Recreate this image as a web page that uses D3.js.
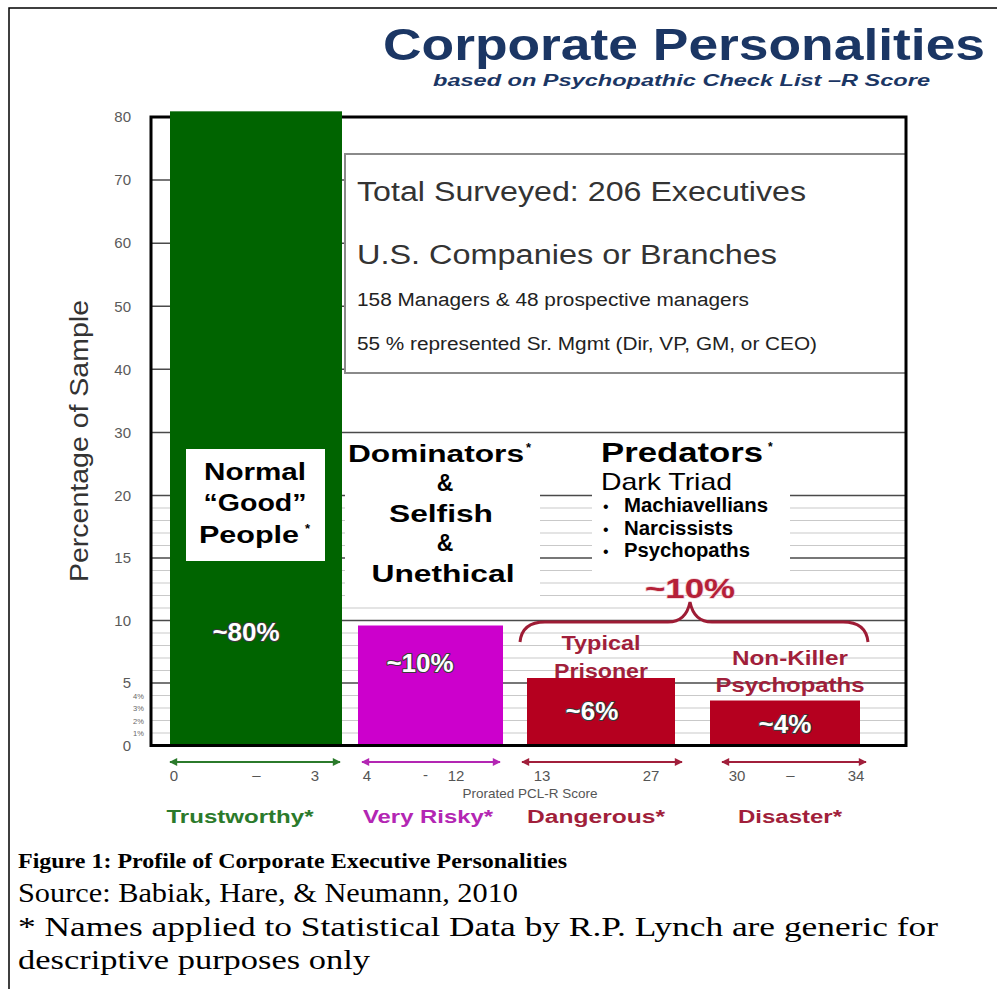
<!DOCTYPE html>
<html><head><meta charset="utf-8">
<script src="https://cdn.jsdelivr.net/npm/d3@7"></script>
<style>body{margin:0;background:#fff} svg{display:block}</style>
</head><body><svg id="c" width="997" height="989"></svg>
<script>
// ---------- DATA ----------
const categories = ["Normal “Good” People", "Dominators & Selfish & Unethical", "Typical Prisoner", "Non-Killer Psychopaths"];
const values = [80.9, 9.6, 5.4, 3.6];
const valueLabels = ["~80%", "~10%", "~6%", "~4%"];
const scoreLo = [0, 4, 13, 30];
const scoreHi = [3, 12, 27, 34];
const riskLabels = ["Trustworthy*", "Very Risky*", "Dangerous*", "Disaster*"];
const scoreTicks = [0, 3, 4, 12, 13, 27, 30, 34];
const yTicks = [0, 5, 10, 15, 20, 30, 40, 50, 60, 70, 80];
const yMajorGrid = [5, 10, 15, 20, 30, 40, 50, 60, 70];
const yMinorGrid = d3.range(1, 20).filter(d => d % 5 !== 0);
const smallPctLabels = ["1%", "2%", "3%", "4%"];
const smallPctValues = [1, 2, 3, 4];
const surveyLines = ["Total Surveyed: 206 Executives", "U.S. Companies or Branches", "158 Managers & 48 prospective managers", "55 % represented Sr. Mgmt (Dir, VP, GM, or CEO)"];
const darkTriad = ["Machiavellians", "Narcissists", "Psychopaths"];
const captionLines = ["Source: Babiak, Hare, & Neumann, 2010", "* Names applied to Statistical Data  by R.P. Lynch are generic for", "descriptive  purposes only"];

// ---------- STYLE ----------
const barColors = ["#006400", "#cc00cc", "#b5001f", "#b5001f"];
const labelColors = ["#2b7a2b", "#b326b3", "#a11f3b", "#a11f3b"];
const RED_TXT = "#a11f3b";
const NAVY = "#1b3664";
const SANS = "'Liberation Sans', Arimo, Arial, Roboto, sans-serif";
const NARROW = "'Liberation Sans Narrow', 'Arial Narrow', 'Liberation Sans', Roboto, sans-serif";
const SERIF = "'Liberation Serif', Tinos, 'Times New Roman', serif";

const svg = d3.select("#c");
const y = d3.scaleLinear().domain([0, 20, 80]).range([745.5, 495.5, 117]);
const x = d3.scaleLinear().domain(scoreTicks).range([170, 342, 358, 503, 527, 675, 710, 860]);
const tickX = d3.scaleLinear().domain(scoreTicks).range([174, 315, 367, 456, 542, 651, 737, 856]);
const L = 151, R = 906;

function text(s, px, py, o = {}) {
  const t = svg.append("text").attr("x", px).attr("y", py)
    .attr("font-family", o.family || SANS)
    .attr("font-size", o.size || 16)
    .attr("font-weight", o.weight || "normal")
    .attr("font-style", o.style || "normal")
    .attr("fill", o.fill || "#000")
    .attr("text-anchor", o.anchor || "start")
    .text(s);
  if (o.len) t.attr("textLength", o.len).attr("lengthAdjust", "spacingAndGlyphs");
  if (o.stroke) t.attr("stroke", o.stroke).attr("stroke-width", o.sw || 2).attr("paint-order", "stroke").attr("stroke-linejoin", "round");
  return t;
}

// outer figure border
svg.append("path").attr("d", "M9,989 V8 H997").attr("fill", "none").attr("stroke", "#000").attr("stroke-width", 1.5);

// title
text("Corporate Personalities", 383, 60, {size: 44, weight: "bold", fill: NAVY, len: 602});
text("based on Psychopathic Check List –R  Score", 433, 86, {size: 16, weight: "bold", style: "italic", fill: NAVY, len: 497});

// gridlines
svg.append("g").selectAll("line").data(yMinorGrid).join("line")
  .attr("x1", L).attr("x2", R).attr("y1", d => y(d)).attr("y2", d => y(d))
  .attr("stroke", "#c9c9c9").attr("stroke-width", 1);
svg.append("g").selectAll("line").data(yMajorGrid).join("line")
  .attr("x1", L).attr("x2", R).attr("y1", d => y(d)).attr("y2", d => y(d))
  .attr("stroke", "#4a4a4a").attr("stroke-width", 1.5);

// survey box
svg.append("rect").attr("x", 345).attr("y", 154).attr("width", R - 345).attr("height", 219)
  .attr("fill", "#fff").attr("stroke", "#8a8a8a").attr("stroke-width", 2);
svg.append("rect").attr("x", 344).attr("y", 118).attr("width", R - 344).attr("height", 35).attr("fill", "#fff");
const surveyStyle = [
  {y: 201, size: 27, family: SANS, fill: "#333", len: 449},
  {y: 264, size: 27, family: SANS, fill: "#333", len: 420},
  {y: 306, size: 18, family: NARROW, fill: "#222", len: 392},
  {y: 350, size: 18, family: NARROW, fill: "#222", len: 460}
];
surveyLines.forEach((s, i) => text(s, 357, surveyStyle[i].y, surveyStyle[i]));

// white masks behind text blocks
svg.append("rect").attr("x", 345).attr("y", 437).attr("width", 195).attr("height", 163).attr("fill", "#fff");
svg.append("rect").attr("x", 592).attr("y", 437).attr("width", 198).attr("height", 135).attr("fill", "#fff");

// frame
svg.append("rect").attr("x", L).attr("y", y(80)).attr("width", R - L).attr("height", y(0) - y(80))
  .attr("fill", "none").attr("stroke", "#000").attr("stroke-width", 3);

// bars
svg.append("g").selectAll("rect").data(values).join("rect")
  .attr("x", (d, i) => x(scoreLo[i]))
  .attr("width", (d, i) => x(scoreHi[i]) - x(scoreLo[i]))
  .attr("y", d => y(d))
  .attr("height", d => y(0) - y(d) - 1.5)
  .attr("fill", (d, i) => barColors[i]);

// y axis labels
const yAxis = d3.axisLeft(y).tickValues(yTicks).tickSize(0).tickPadding(0).tickFormat(d3.format("d"));
const ga = svg.append("g").attr("transform", "translate(131,0)").call(yAxis);
ga.select(".domain").remove();
ga.selectAll("text").attr("font-family", NARROW).attr("font-size", 15).attr("fill", "#5a5a5a");
svg.append("g").selectAll("text").data(smallPctValues).join("text")
  .attr("x", 133).attr("y", d => y(d) + 3)
  .attr("font-family", NARROW).attr("font-size", 7.5).attr("fill", "#666")
  .text((d, i) => smallPctLabels[i]);

// y title
svg.append("text").attr("transform", "translate(88,441) rotate(-90)")
  .attr("text-anchor", "middle").attr("font-family", SANS).attr("font-size", 25).attr("fill", "#333")
  .attr("textLength", 282).attr("lengthAdjust", "spacingAndGlyphs")
  .text("Percentage of Sample");

// green label box
svg.append("rect").attr("x", x(0) + 16).attr("y", 449).attr("width", x(3) - x(0) - 33).attr("height", 112).attr("fill", "#fff");
const gcx = (x(0) + x(3)) / 2 - 1;
text("Normal", gcx, 480, {size: 23, weight: "bold", anchor: "middle", len: 102});
text("“Good”", gcx, 511, {size: 23, weight: "bold", anchor: "middle", len: 103});
text("People", gcx - 6, 543, {size: 23, weight: "bold", anchor: "middle", len: 100});
text("*", gcx + 50, 533, {size: 13, weight: "bold"});

// value labels inside bars
const vlPos = [[246, 641], [420, 672], [592, 720], [785, 733]];
valueLabels.forEach((s, i) => text(s, vlPos[i][0], vlPos[i][1], {size: 26, weight: "bold", fill: "#fff", anchor: "middle", stroke: "#3a3a3a", sw: 2.2}));

// Dominators block
const dcx = 441;
text("Dominators", dcx - 5, 462, {size: 23, weight: "bold", anchor: "middle", len: 176});
text("*", 526, 452, {size: 13, weight: "bold"});
text("&", 445, 491, {size: 23, weight: "bold", anchor: "middle"});
text("Selfish", 441, 522, {size: 23, weight: "bold", anchor: "middle", len: 104});
text("&", 445, 551, {size: 23, weight: "bold", anchor: "middle"});
text("Unethical", 443, 582, {size: 23, weight: "bold", anchor: "middle", len: 143});

// Predators block
text("Predators", 601, 462, {size: 27, weight: "bold", len: 162});
text("*", 768, 451, {size: 12, weight: "bold"});
text("Dark Triad", 601, 490, {size: 24, len: 131});
const dtLen = [144, 109, 126];
darkTriad.forEach((s, i) => {
  text("•", 603, 512 + i * 22.5, {size: 16});
  text(s, 624, 512 + i * 22.5, {size: 20, weight: "bold", family: NARROW, len: dtLen[i]});
});
text("~10%", 690, 598, {size: 28, weight: "bold", fill: "#b52038", anchor: "middle", len: 90, stroke: "#f3d4d8", sw: 1.5});

// brace
const bx0 = x(13) - 7, bx1 = x(34) + 8, bm = 690, by = 622;
svg.append("path")
  .attr("d", `M${bx0},${by + 20} Q${bx0 + 2},${by} ${bx0 + 25},${by} L${bm - 22},${by} Q${bm - 4},${by} ${bm},${by - 20} Q${bm + 4},${by} ${bm + 22},${by} L${bx1 - 25},${by} Q${bx1 - 2},${by} ${bx1},${by + 20}`)
  .attr("fill", "none").attr("stroke", "#9e1c35").attr("stroke-width", 3);

// predator subgroup labels
text("Typical", 601, 650, {size: 20, weight: "bold", fill: RED_TXT, anchor: "middle", len: 79});
text("Prisoner", 601, 678, {size: 20, weight: "bold", fill: RED_TXT, anchor: "middle", len: 94});
text("Non-Killer", 790, 665, {size: 20, weight: "bold", fill: RED_TXT, anchor: "middle", len: 116});
text("Psychopaths", 790, 692, {size: 20, weight: "bold", fill: RED_TXT, anchor: "middle", len: 149});

// range arrows
const arrowY = 762;
const arrowInset = [[0, -2], [4, -3], [-5, 7], [12, 6]];
const defs = svg.append("defs");
labelColors.forEach((c, i) => {
  defs.append("marker").attr("id", "a" + i).attr("viewBox", "0 0 10 10").attr("refX", 9).attr("refY", 5)
    .attr("markerWidth", 9).attr("markerHeight", 8).attr("markerUnits", "userSpaceOnUse").attr("orient", "auto-start-reverse")
    .append("path").attr("d", "M0,0 L10,5 L0,10 z").attr("fill", c);
});
svg.append("g").selectAll("line").data(scoreLo).join("line")
  .attr("x1", (d, i) => x(d) + arrowInset[i][0])
  .attr("x2", (d, i) => x(scoreHi[i]) + arrowInset[i][1])
  .attr("y1", arrowY).attr("y2", arrowY)
  .attr("stroke", (d, i) => labelColors[i]).attr("stroke-width", 2)
  .attr("marker-start", (d, i) => `url(#a${i})`).attr("marker-end", (d, i) => `url(#a${i})`);

// score tick labels
svg.append("g").selectAll("text").data(scoreTicks).join("text")
  .attr("x", d => tickX(d)).attr("y", 781).attr("text-anchor", "middle")
  .attr("font-family", NARROW).attr("font-size", 15).attr("fill", "#555").text(d => d);
const dashes = [["–", 0, 12], ["-", 1, 14], ["–", 3, -6]];
dashes.forEach(([s, i, dx]) => text(s, (tickX(scoreLo[i]) + tickX(scoreHi[i])) / 2 + dx, 780, {size: 15, family: NARROW, fill: "#555", anchor: "middle"}));
text("Prorated PCL-R Score", 530, 798, {size: 13, family: NARROW, fill: "#555", anchor: "middle", len: 135});

// risk labels
const riskCx = [240, 428, 596, 790];
const riskLen = [147, 130, 138, 104];
riskLabels.forEach((s, i) => text(s, riskCx[i], 823, {size: 18, weight: "bold", family: NARROW, fill: labelColors[i], anchor: "middle", len: riskLen[i]}));

// caption
text("Figure 1: Profile of Corporate Executive Personalities", 18, 868, {size: 21, weight: "bold", family: SERIF, len: 549});
const capLen = [500, 920, 352];
captionLines.forEach((s, i) => text(s, 18, 902 + i * 33.5, {size: 27, family: SERIF, len: capLen[i]}));
</script>
</body></html>
